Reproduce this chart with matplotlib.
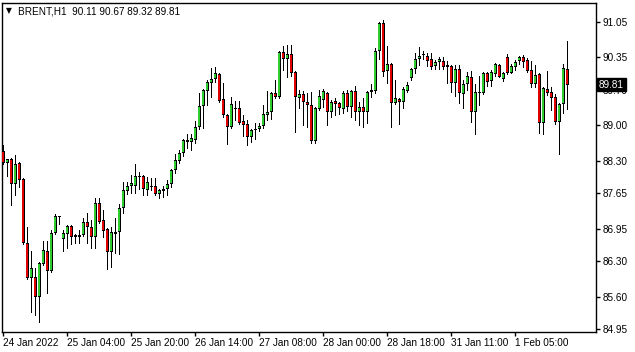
import matplotlib
matplotlib.use('Agg')
import matplotlib.pyplot as plt
import matplotlib.transforms as mtransforms
import numpy as np

# BRENT H1 candles (oldest -> newest)
opens = [
    88.49, 88.25, 88.33, 87.83, 88.25, 87.93, 86.66, 85.97, 85.99, 85.59,
    86.25, 86.50, 86.11, 86.86, 87.18, 86.74, 86.84, 87.00, 86.82, 86.78,
    86.82, 87.08, 86.98, 86.78, 87.46, 87.12, 86.94, 86.49, 86.84, 86.88,
    87.36, 87.70, 87.79, 87.79, 87.99, 87.99, 87.72, 87.79, 87.79, 87.64,
    87.70, 87.74, 87.83, 88.11, 88.29, 88.45, 88.71, 88.67, 88.71, 88.97,
    89.38, 89.68, 89.84, 89.92, 90.02, 89.52, 89.20, 88.97, 89.34, 89.34,
    89.09, 89.03, 88.77, 88.91, 88.93, 88.99, 89.20, 89.26, 89.64, 89.56,
    90.45, 90.32, 90.42, 90.06, 89.54, 89.62, 89.46, 89.40, 88.69, 89.32,
    89.50, 89.64, 89.26, 89.48, 89.44, 89.32, 89.64, 89.36, 89.68, 89.26,
    89.36, 89.26, 89.66, 89.68, 90.47, 91.03, 90.08, 90.22, 89.44, 89.52,
    89.46, 89.68, 89.94, 90.12, 90.32, 90.40, 90.38, 90.32, 90.18, 90.26,
    90.28, 90.16, 90.18, 89.84, 90.12, 89.62, 89.82, 89.96, 89.26, 89.64,
    89.64, 90.04, 89.88, 90.02, 90.20, 89.92, 90.36, 90.04, 90.16, 90.28,
    90.36, 90.30, 90.10, 89.82, 90.02, 89.05, 89.72, 89.66, 89.56, 89.07,
    89.42, 90.11,
]
highs = [
    88.61, 88.34, 88.35, 88.41, 88.27, 87.95, 86.98, 86.50, 86.17, 86.29,
    86.70, 86.70, 86.92, 87.24, 87.19, 86.92, 87.02, 87.02, 86.84, 86.92,
    87.16, 87.26, 87.12, 87.56, 87.56, 87.32, 86.96, 86.98, 87.16, 87.44,
    87.87, 87.87, 88.01, 88.23, 88.07, 88.01, 87.97, 87.95, 87.95, 87.74,
    87.79, 87.91, 88.13, 88.43, 88.51, 88.73, 88.83, 88.83, 89.09, 89.64,
    89.72, 89.90, 90.14, 90.16, 90.04, 89.84, 89.22, 89.56, 89.48, 89.48,
    89.20, 89.11, 88.93, 89.05, 89.05, 89.40, 89.68, 89.66, 89.90, 90.47,
    90.57, 90.59, 90.59, 90.08, 89.70, 89.68, 89.64, 89.66, 89.36, 89.70,
    89.72, 89.66, 89.50, 89.54, 89.46, 89.68, 89.70, 89.70, 89.78, 89.46,
    89.54, 89.68, 89.82, 90.53, 91.05, 91.09, 90.57, 90.24, 89.90, 89.54,
    89.76, 89.86, 90.14, 90.44, 90.55, 90.47, 90.44, 90.44, 90.30, 90.36,
    90.36, 90.28, 90.20, 90.20, 90.20, 89.90, 90.06, 90.08, 89.82, 89.98,
    90.06, 90.06, 90.10, 90.24, 90.22, 90.06, 90.42, 90.22, 90.30, 90.38,
    90.40, 90.34, 90.28, 90.20, 90.04, 89.76, 90.08, 89.76, 89.62, 89.44,
    90.22, 90.67,
]
lows = [
    88.23, 87.99, 87.42, 87.62, 87.77, 86.64, 85.95, 85.29, 85.23, 85.09,
    86.23, 85.67, 86.09, 86.84, 87.04, 86.50, 86.56, 86.64, 86.66, 86.66,
    86.80, 86.66, 86.56, 86.56, 87.06, 86.78, 86.15, 86.19, 86.47, 86.45,
    87.26, 87.64, 87.66, 87.66, 87.74, 87.62, 87.62, 87.72, 87.62, 87.56,
    87.58, 87.62, 87.77, 88.05, 88.25, 88.39, 88.55, 88.51, 88.65, 88.93,
    88.95, 89.40, 89.56, 89.86, 89.46, 89.16, 88.63, 88.95, 89.11, 89.03,
    88.79, 88.61, 88.67, 88.73, 88.89, 88.95, 89.11, 89.12, 89.54, 89.54,
    90.10, 89.96, 89.98, 88.87, 89.34, 89.01, 88.97, 88.65, 88.65, 89.30,
    89.36, 89.01, 89.16, 89.20, 89.22, 89.24, 89.28, 89.16, 89.11, 89.01,
    88.97, 89.05, 89.56, 89.64, 90.32, 89.98, 89.84, 88.97, 89.42, 89.03,
    89.34, 89.66, 89.90, 90.04, 90.20, 90.32, 90.18, 90.12, 90.12, 90.12,
    90.12, 89.84, 89.66, 89.58, 89.44, 89.34, 89.70, 89.07, 88.83, 89.40,
    89.62, 89.78, 89.78, 89.98, 89.96, 89.88, 90.02, 90.04, 90.10, 90.22,
    90.16, 90.06, 89.76, 89.76, 88.85, 88.83, 89.60, 89.30, 89.03, 88.43,
    89.24, 89.32,
]
closes = [
    88.25, 88.33, 87.83, 88.23, 87.91, 86.66, 85.97, 86.17, 85.59, 86.27,
    86.52, 86.11, 86.86, 87.20, 87.18, 86.86, 87.00, 86.78, 86.78, 86.82,
    87.08, 86.98, 86.78, 87.46, 87.08, 86.90, 86.49, 86.88, 86.88, 87.36,
    87.72, 87.79, 87.85, 87.99, 87.97, 87.74, 87.87, 87.77, 87.64, 87.72,
    87.74, 87.83, 88.11, 88.31, 88.45, 88.71, 88.67, 88.75, 88.97, 89.38,
    89.70, 89.86, 89.92, 90.04, 89.48, 89.20, 88.97, 89.42, 89.32, 89.05,
    89.01, 88.77, 88.91, 88.93, 88.99, 89.22, 89.26, 89.64, 89.56, 90.45,
    90.32, 90.42, 90.04, 89.56, 89.62, 89.46, 89.40, 88.69, 89.34, 89.58,
    89.68, 89.26, 89.46, 89.42, 89.34, 89.64, 89.36, 89.68, 89.26, 89.36,
    89.26, 89.66, 89.70, 90.47, 91.03, 90.06, 90.22, 89.44, 89.54, 89.46,
    89.72, 89.80, 90.12, 90.32, 90.38, 90.40, 90.28, 90.16, 90.26, 90.32,
    90.16, 90.20, 89.84, 90.12, 89.64, 89.82, 89.98, 89.26, 89.66, 89.64,
    90.04, 89.86, 90.06, 90.22, 89.96, 90.04, 90.04, 90.18, 90.26, 90.36,
    90.26, 90.08, 89.82, 90.00, 89.05, 89.74, 89.64, 89.54, 89.07, 89.42,
    90.14, 89.81,
]

price_ticks = [91.05, 90.35, 89.70, 89.00, 88.30, 87.65, 86.95, 86.30, 85.60, 84.95]
time_labels = ["24 Jan 2022", "25 Jan 04:00", "25 Jan 20:00", "26 Jan 14:00",
               "27 Jan 08:00", "28 Jan 00:00", "28 Jan 18:00", "31 Jan 11:00",
               "1 Feb 05:00"]
bars_per_label = 16
symbol = "BRENT,H1"

plt.rcParams['font.family'] = ['Liberation Sans', 'DejaVu Sans']

o = np.array(opens)
h = np.array(highs)
l = np.array(lows)
c = np.array(closes)
n = len(o)
x = np.arange(n)

fig = plt.figure(figsize=(6.35, 3.52), dpi=100)
ax = fig.add_axes([2 / 635, 20.5 / 352, 594 / 635, 329 / 352])

up = c >= o
colors = np.where(up, '#2ecc2e', '#e00000')
body_low = np.minimum(o, c)
body_size = np.abs(c - o)
px = (91.437 - 84.91) / 329  # price per pixel

# wick, black body frame, then coloured core one pixel inside the frame
ax.vlines(x, l, h, color='black', linewidth=0.72, zorder=2, antialiased=False)
ax.bar(x, np.maximum(body_size, px * 0.8), bottom=body_low, width=0.75,
       color='black', linewidth=0, zorder=3, antialiased=False)
inner_h = np.clip(body_size - 2 * px, 0, None)
ax.bar(x, inner_h, bottom=body_low + px, width=0.28, color=colors,
       linewidth=0, zorder=4, antialiased=False)

ax.set_xlim(-0.25, 148.25)
ax.set_ylim(84.91, 91.437)

for s in ax.spines.values():
    s.set_color('black')
    s.set_linewidth(1)

ax.yaxis.tick_right()
ax.set_yticks(price_ticks)
ax.set_yticklabels([f"{p:.2f}" for p in price_ticks])
ax.tick_params(axis='y', direction='out', length=3, width=1, pad=2,
               labelsize=7.2, colors='black')

ax.set_xticks(np.arange(0, n, bars_per_label)[:len(time_labels)])
ax.set_xticklabels(time_labels, ha='left')
ax.tick_params(axis='x', direction='out', length=3, width=1, pad=2,
               labelsize=7.2, colors='black')

# last price marker on the price scale
trans = mtransforms.blended_transform_factory(ax.transAxes, ax.transData)
ax.text(1.0 + 3 / 594, c[-1], f"{c[-1]:.2f}", transform=trans, color='white',
        fontsize=7.2, ha='left', va='center', zorder=10, clip_on=False,
        bbox=dict(facecolor='black', edgecolor='black', pad=1.4))

# header line
fig.text(6 / 635, 1 - 11 / 352, "\u25bc", fontsize=5.5, va='center', ha='left',
         family=['DejaVu Sans'])
fig.text(18 / 635, 1 - 11 / 352,
         f"{symbol}  {o[-1]:.2f} {h[-1]:.2f} {l[-1]:.2f} {c[-1]:.2f}",
         fontsize=7.2, va='center', ha='left')

fig.savefig('out.png', dpi=100)
